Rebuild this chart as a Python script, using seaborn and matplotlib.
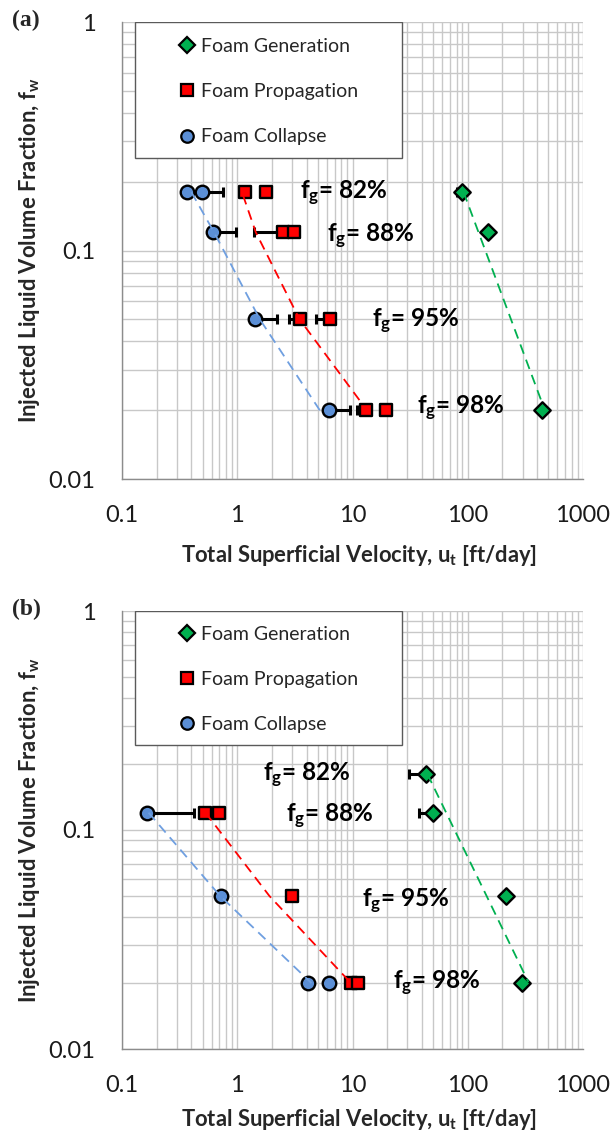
import matplotlib
matplotlib.use("Agg")
import matplotlib.pyplot as plt
import matplotlib.ticker as mticker
from matplotlib.lines import Line2D
from matplotlib.patches import Rectangle
import seaborn as sns
import pandas as pd

sns.set_theme(style="white")
plt.rcParams['font.family'] = ['Lato', 'DejaVu Sans']
plt.rcParams['mathtext.fontset'] = 'custom'
plt.rcParams['mathtext.rm'] = 'Lato'
plt.rcParams['mathtext.it'] = 'Lato:italic'
plt.rcParams['mathtext.bf'] = 'Lato:bold'

# ---------------- data : panel (a) ----------------
a_gen_u = [90, 150, 440]
a_gen_fw = [0.18, 0.12, 0.02]
a_gen_err_lo = [10, 0, 0]

a_prop_u = [1.16, 1.76, 2.49, 3.10, 3.52, 6.34, 13.2, 19.7]
a_prop_fw = [0.18, 0.18, 0.12, 0.12, 0.05, 0.05, 0.02, 0.02]
a_prop_err_lo = [0, 0, 1.1, 0, 0.68, 1.55, 2.3, 2.5]

a_col_u = [0.37, 0.49, 0.61, 1.43, 6.3]
a_col_fw = [0.18, 0.18, 0.12, 0.05, 0.02]
a_col_err_hi = [0, 0.26, 0.36, 0.77, 3.2]

a_gen_trend_u = [92, 450]
a_gen_trend_fw = [0.18, 0.021]
a_prop_trend_u = [1.12, 1.45, 3.47, 11.6]
a_prop_trend_fw = [0.175, 0.12, 0.05, 0.022]
a_col_trend_u = [0.40, 0.63, 1.57, 5.2]
a_col_trend_fw = [0.18, 0.12, 0.05, 0.02]

# ---------------- data : panel (b) ----------------
b_gen_u = [43, 49.5, 214, 296]
b_gen_fw = [0.18, 0.12, 0.05, 0.02]
b_gen_err_lo = [12.3, 11.9, 0, 0]

b_prop_u = [0.52, 0.70, 2.97, 9.8, 11.2]
b_prop_fw = [0.12, 0.12, 0.05, 0.02, 0.02]
b_prop_err_hi = [0, 0, 0, 0, 1.1]

b_col_u = [0.165, 0.716, 4.07, 6.27]
b_col_fw = [0.12, 0.05, 0.02, 0.02]
b_col_err_hi = [0.26, 0, 0, 0]

b_gen_trend_u = [44.7, 336]
b_gen_trend_fw = [0.18, 0.0202]
b_prop_trend_u = [0.53, 1.9, 9.7]
b_prop_trend_fw = [0.12, 0.05, 0.02]
b_col_trend_u = [0.17, 0.71, 4.4]
b_col_trend_fw = [0.12, 0.05, 0.02]

# label text and placement
fg_labels = ["82%", "88%", "95%", "98%"]
a_lab_u = [3.5, 6.0, 14.8, 36.5]
a_lab_fw = [0.177, 0.115, 0.049, 0.0203]
b_lab_u = [1.68, 2.65, 12.1, 22.6]
b_lab_fw = [0.177, 0.115, 0.047, 0.0199]

x_ticks = [0.1, 1, 10, 100, 1000]
x_ticklabels = ["0.1", "1", "10", "100", "1000"]
y_ticks = [0.01, 0.1, 1]
y_ticklabels = ["0.01", "0.1", "1"]

GREEN = "#00b050"
RED = "#ff0000"
BLUE = "#5b8fd6"
BLUE_LINE = "#6f9fe0"
legend_names = ["Foam Generation", "Foam Propagation", "Foam Collapse"]

W, H = 611, 1135
fig = plt.figure(figsize=(W / 100, H / 100), dpi=100)


def px_axes(left, top, right, bottom):
    return fig.add_axes([left / W, 1 - bottom / H, (right - left) / W, (bottom - top) / H])


def draw_panel(ax, gen, prop, col, trends, labs, top_px, bot_px, letter,
               leg_rows_top, row_pitch, xlabel_center_px):
    ax.set_xscale("log")
    ax.set_yscale("log")
    ax.set_xlim(0.1, 1000)
    ax.set_ylim(0.01, 1)

    # error bars
    gu, gf, g_lo, g_hi = gen
    pu, pf, p_lo, p_hi = prop
    cu, cf, c_lo, c_hi = col
    for (u, f, lo, hi) in [gen, prop, col]:
        ax.errorbar(u, f, xerr=[lo, hi], fmt="none", ecolor="black",
                    elinewidth=2.2, capsize=3.5, capthick=2.2, zorder=2.6)

    # markers via seaborn
    sns.scatterplot(x=gu, y=gf, marker="D", s=70, color=GREEN, edgecolor="black",
                    linewidth=1.7, ax=ax, zorder=3)
    sns.scatterplot(x=pu, y=pf, marker="s", s=85, color=RED, edgecolor="black",
                    linewidth=1.7, ax=ax, zorder=3)
    sns.scatterplot(x=cu, y=cf, marker="o", s=95, color=BLUE, edgecolor="black",
                    linewidth=1.7, ax=ax, zorder=3)

    # dashed trend lines
    for (tu, tf, c) in trends:
        df = pd.DataFrame({"u": tu, "fw": tf})
        sns.lineplot(data=df, x="u", y="fw", sort=False, color=c, lw=1.3,
                     ax=ax, zorder=4, estimator=None)
        ax.lines[-1].set_dashes((5.5, 3.5))

    # f_g labels
    for t, u, f in zip(fg_labels, labs[0], labs[1]):
        ax.text(u, f, r"$\mathbf{f_g}$= " + t, fontsize=17.5, fontweight="bold",
                ha="left", va="center", color="black", zorder=5)

    # axes styling
    ax.xaxis.set_major_locator(mticker.FixedLocator(x_ticks))
    ax.xaxis.set_major_formatter(mticker.FixedFormatter(x_ticklabels))
    ax.yaxis.set_major_locator(mticker.FixedLocator(y_ticks))
    ax.yaxis.set_major_formatter(mticker.FixedFormatter(y_ticklabels))
    ax.xaxis.set_minor_locator(mticker.LogLocator(base=10, subs=range(2, 10)))
    ax.yaxis.set_minor_locator(mticker.LogLocator(base=10, subs=range(2, 10)))
    ax.xaxis.set_minor_formatter(mticker.NullFormatter())
    ax.yaxis.set_minor_formatter(mticker.NullFormatter())
    ax.tick_params(which="major", length=6, width=1, color="#8c8c8c",
                   labelsize=17, labelcolor="#1a1a1a", direction="out")
    ax.tick_params(axis="x", which="major", pad=13)
    ax.tick_params(axis="y", which="major", pad=13)
    ax.tick_params(which="minor", length=0)
    ax.grid(which="both", color="#c8c8c8", lw=1)
    ax.set_axisbelow(True)
    for s in ["top", "right"]:
        ax.spines[s].set_visible(False)
    for s in ["left", "bottom"]:
        ax.spines[s].set_color("#8c8c8c")
        ax.spines[s].set_linewidth(1)

    h_px = bot_px - top_px
    ax.set_xlabel(r"Total Superficial Velocity, $\mathbf{u_t}$ [ft/day]",
                  fontsize=15.8, fontweight="bold")
    ax.xaxis.label.set_va("center")
    ax.xaxis.set_label_coords(0.515, -(xlabel_center_px - bot_px) / h_px)
    ax.set_ylabel(r"Injected Liquid Volume Fraction, $\mathbf{f_w}$",
                  fontsize=15.8, fontweight="bold")
    ax.yaxis.label.set_va("center")
    ax.yaxis.set_label_coords(-(122 - 30) / 461, 0.5)

    # legend box
    box_bottom = leg_rows_top + 2 * row_pitch + 23
    rect = Rectangle((13 / 461, 1 - (box_bottom - top_px) / h_px), 267 / 461,
                     (box_bottom - top_px) / h_px, transform=ax.transAxes,
                     facecolor="white", edgecolor="#5a5a5a", lw=1.0, zorder=2.5)
    ax.add_patch(rect)
    handles = [
        Line2D([], [], marker="D", ls="none", markersize=8.0, markerfacecolor=GREEN,
               markeredgecolor="black", markeredgewidth=1.6),
        Line2D([], [], marker="s", ls="none", markersize=8.5, markerfacecolor=RED,
               markeredgecolor="black", markeredgewidth=1.6),
        Line2D([], [], marker="o", ls="none", markersize=9.0, markerfacecolor=BLUE,
               markeredgecolor="black", markeredgewidth=1.6),
    ]
    spacing = 1.13 + (row_pitch - 38.5) / 19.4
    leg = ax.legend(handles, legend_names, loc="upper left",
                    bbox_to_anchor=((179.5 - 122) / 461, 1 - (leg_rows_top - 7 - top_px) / h_px),
                    frameon=False, fontsize=14, borderpad=0, borderaxespad=0,
                    handlelength=0.8, handletextpad=0.3, labelspacing=spacing)
    leg.set_zorder(6)

    fig.text(12 / W, 1 - (top_px - 2) / H, letter, fontsize=17, fontweight="bold",
             family="Liberation Serif", ha="left", va="center")


ax_a = px_axes(122, 22, 583, 479)
draw_panel(ax_a,
           (a_gen_u, a_gen_fw, a_gen_err_lo, [0] * len(a_gen_u)),
           (a_prop_u, a_prop_fw, a_prop_err_lo, [0] * len(a_prop_u)),
           (a_col_u, a_col_fw, [0] * len(a_col_u), a_col_err_hi),
           [(a_col_trend_u, a_col_trend_fw, BLUE_LINE),
            (a_prop_trend_u, a_prop_trend_fw, RED),
            (a_gen_trend_u, a_gen_trend_fw, GREEN)],
           (a_lab_u, a_lab_fw), 22, 479, "(a)", 44.5, 45, 555)

ax_b = px_axes(122, 611, 583, 1049)
draw_panel(ax_b,
           (b_gen_u, b_gen_fw, b_gen_err_lo, [0] * len(b_gen_u)),
           (b_prop_u, b_prop_fw, [0] * len(b_prop_u), b_prop_err_hi),
           (b_col_u, b_col_fw, [0] * len(b_col_u), b_col_err_hi),
           [(b_col_trend_u, b_col_trend_fw, BLUE_LINE),
            (b_prop_trend_u, b_prop_trend_fw, RED),
            (b_gen_trend_u, b_gen_trend_fw, GREEN)],
           (b_lab_u, b_lab_fw), 611, 1049, "(b)", 633.3, 44.2, 1119)

fig.savefig("out.png", dpi=100)
